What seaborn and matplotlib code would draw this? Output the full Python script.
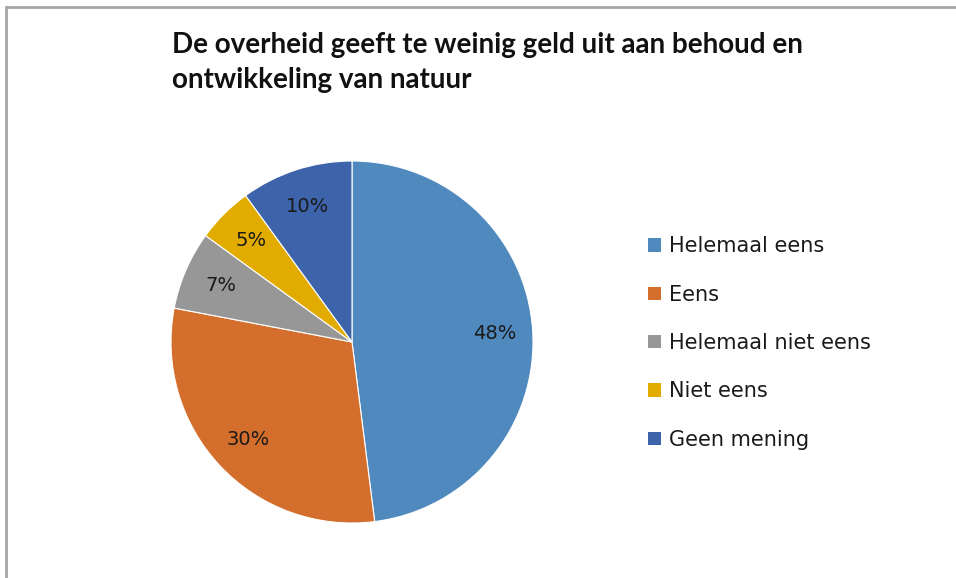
import matplotlib
matplotlib.use("Agg")
import matplotlib.pyplot as plt
import seaborn as sns
from matplotlib.patches import Patch
from matplotlib.lines import Line2D

# data
categories = ["Helemaal eens", "Eens", "Helemaal niet eens", "Niet eens", "Geen mening"]
percentages = [48, 30, 7, 5, 10]
colors = ["#4F89BD", "#D36E2C", "#979797", "#E2AB00", "#3D64AA"]
title = "De overheid geeft te weinig geld uit aan behoud en\nontwikkeling van natuur"

sns.set_theme(style="white")
plt.rcParams['font.family'] = ['DejaVu Sans']

fig = plt.figure(figsize=(9.56, 5.78), dpi=100)
ax = fig.add_axes([171 / 956, 55 / 578, 362 / 956, 362 / 578])

wedges, texts, autotexts = ax.pie(
    percentages,
    colors=colors,
    startangle=90,
    counterclock=False,
    autopct=lambda p: f"{p:.0f}%",
    pctdistance=0.79,
    radius=1,
    wedgeprops=dict(edgecolor="white", linewidth=0.8),
    textprops=dict(fontsize=14, color="#1a1a1a"),
)
ax.set_xlim(-1, 1)
ax.set_ylim(-1, 1)

# title
fig.text(172 / 956, 1 - 32 / 578, title, fontsize=20, fontweight="bold",
         family="Lato", va="top", ha="left", linespacing=1.45, color="#111111")

# legend
handles = [Patch(facecolor=c, edgecolor="none") for c in colors]
fig.legend(handles, categories, loc="upper left",
           bbox_to_anchor=(640 / 956, 1 - 228 / 578), frameon=False,
           fontsize=15, handlelength=0.62, handleheight=0.62,
           handletextpad=0.35, labelspacing=1.36, borderaxespad=0,
           labelcolor="#1a1a1a")

# chart frame (top and left edge visible)
fig.add_artist(Line2D([6 / 956, 6 / 956], [0, 1 - 7 / 578], transform=fig.transFigure,
                      color="#a6a6a6", linewidth=2))
fig.add_artist(Line2D([6 / 956, 1], [1 - 7 / 578, 1 - 7 / 578], transform=fig.transFigure,
                      color="#a6a6a6", linewidth=2))

fig.savefig("out.png", dpi=100)
